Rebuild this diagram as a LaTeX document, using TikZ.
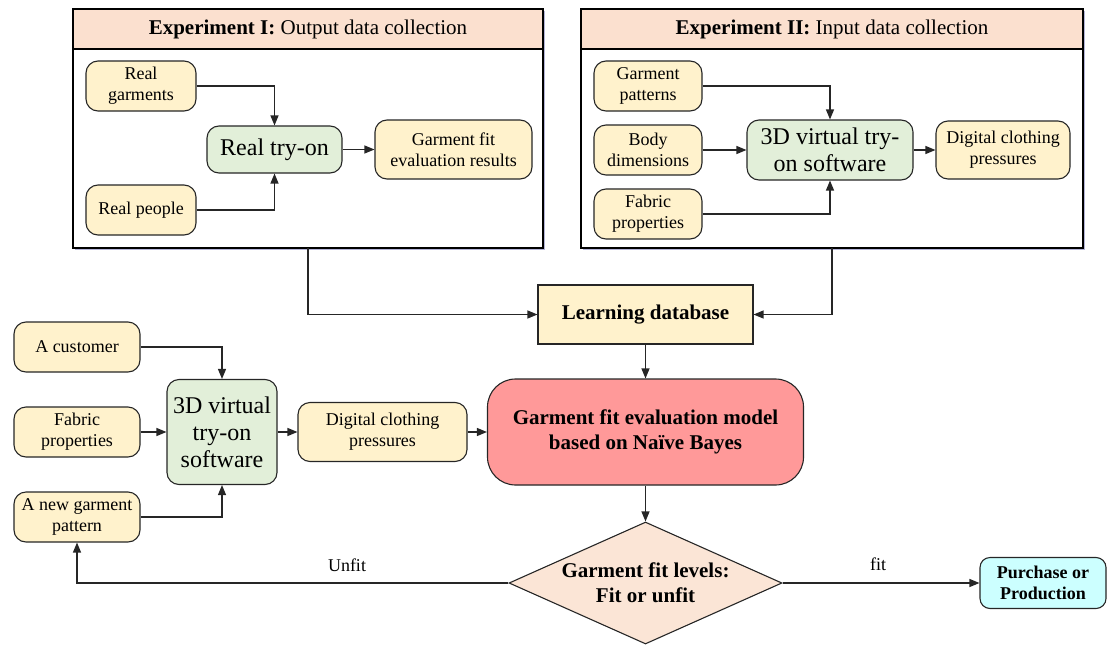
\documentclass[tikz,border=0pt]{standalone}
\usepackage{fontspec}
\setmainfont{Liberation Serif}
\usetikzlibrary{arrows.meta,shapes.geometric,shadows}
\definecolor{ybox}{HTML}{FFF2CC}
\definecolor{gbox}{HTML}{E2EFD9}
\definecolor{pbox}{HTML}{FF9999}
\definecolor{dbox}{HTML}{FBE5D6}
\definecolor{hbox}{HTML}{FBE0CF}
\definecolor{cbox}{HTML}{CCFFFF}
\begin{document}
\begin{tikzpicture}[x=1pt,y=-1pt,
  box/.style={draw=black!85, line width=1.1pt, rounded corners=12pt, align=center, inner sep=0pt,
    font=\fontsize{18}{21}\selectfont},
  ybx/.style={box, fill=ybox},
  gbx/.style={box, fill=gbox, font=\fontsize{24}{27}\selectfont},
  panel/.style={draw=black, line width=1.8pt, fill=white, inner sep=0pt, outer sep=0pt,
    drop shadow={shadow xshift=2pt, shadow yshift=-2pt, fill=blue!30!gray, opacity=0.45}},
  header/.style={fill=hbox, inner sep=0pt, outer sep=0pt, anchor=north, font=\fontsize{21}{24}\selectfont},
  arr/.style={-{Triangle[length=10pt,width=8pt]}, line width=1.2pt, draw=black!85},
  lbl/.style={font=\fontsize{18}{21}\selectfont, inner sep=0pt}
]
\useasboundingbox (0,0) rectangle (1107,645);

% ---------- Panel 1 ----------
\node[panel, minimum width=470pt, minimum height=239pt] (p1) at (308,128.5) {};
\node[header, minimum width=468pt, minimum height=39pt] (h1) at ([yshift=-1pt]p1.north)
  {\textbf{Experiment I:} Output data collection};
\draw[line width=1.2pt] (h1.south west) -- (h1.south east);
\draw[line width=1.8pt] (p1.north west) rectangle (p1.south east);

\node[ybx, minimum width=110pt, minimum height=50pt] (rg) at (141,86) {Real\\garments};
\node[ybx, minimum width=110pt, minimum height=50pt] (rp) at (141,210) {Real people};
\node[gbx, minimum width=135pt, minimum height=47pt] (rt) at (274.5,149.5) {Real try-on};
\node[ybx, minimum width=157pt, minimum height=59pt] (ger) at (453.5,149.5) {Garment fit\\evaluation results};

\draw[arr] (rg.east) -| (rt.north);
\draw[arr] (rp.east) -| (rt.south);
\draw[arr] (rt.east) -- (ger.west);

% ---------- Panel 2 ----------
\node[panel, minimum width=502pt, minimum height=239pt] (p2) at (832,128.5) {};
\node[header, minimum width=500pt, minimum height=39pt] (h2) at ([yshift=-1pt]p2.north)
  {\textbf{Experiment II:} Input data collection};
\draw[line width=1.2pt] (h2.south west) -- (h2.south east);
\draw[line width=1.8pt] (p2.north west) rectangle (p2.south east);

\node[ybx, minimum width=108pt, minimum height=50pt] (gp) at (648,86) {Garment\\patterns};
\node[ybx, minimum width=108pt, minimum height=50pt] (bd) at (648,150) {Body\\dimensions};
\node[ybx, minimum width=108pt, minimum height=50pt] (fp) at (648,214) {Fabric\\properties};
\node[gbx, minimum width=166pt, minimum height=60pt] (sw) at (830,150) {3D virtual try-\\on software};
\node[ybx, minimum width=134pt, minimum height=58pt] (dcp) at (1003,150) {Digital clothing\\pressures};

\draw[arr] (gp.east) -| (sw.north);
\draw[arr] (bd.east) -- (sw.west);
\draw[arr] (fp.east) -| (sw.south);
\draw[arr] (sw.east) -- (dcp.west);

% ---------- Middle ----------
\node[draw=black!85, line width=1.1pt, fill=ybox, minimum width=215pt, minimum height=59pt, inner sep=0pt,
  font=\fontsize{21}{24}\selectfont\bfseries] (ld) at (645.5,314.5) {Learning database};
\draw[arr] (p1.south) |- (ld.west);
\draw[arr] (p2.south) |- (ld.east);

\node[box, fill=pbox, rounded corners=28pt, minimum width=316pt, minimum height=106pt,
  font=\fontsize{21}{25}\selectfont\bfseries] (model) at (645.5,432) {Garment fit evaluation model\\based on Naïve Bayes};
\draw[arr] (ld.south) -- (model.north);

\node[diamond, draw=black!85, line width=1.1pt, fill=dbox, aspect=2.24, inner sep=0pt,
  minimum width=273pt, minimum height=122pt, align=center,
  font=\fontsize{21}{25}\selectfont\bfseries] (dm) at (645.5,583) {Garment fit levels:\\Fit or unfit};
\draw[arr] (model.south) -- (dm.north);

\node[box, fill=cbox, rounded corners=10pt, minimum width=126pt, minimum height=51pt,
  font=\fontsize{18}{21}\selectfont\bfseries] (pp) at (1043,583) {Purchase or\\Production};
\draw[arr] (dm.east) -- (pp.west);
\node[lbl] (lfit) at (878,564) {fit};

% ---------- Bottom left ----------
\node[ybx, minimum width=126pt, minimum height=50pt] (cu) at (77,347) {A customer};
\node[ybx, minimum width=126pt, minimum height=50pt] (fp2) at (77,432) {Fabric\\properties};
\node[ybx, minimum width=126pt, minimum height=50pt] (ng) at (77,517) {A new garment\\pattern};
\node[gbx, minimum width=110pt, minimum height=105pt] (sw2) at (222,432) {3D virtual\\try-on\\software};
\node[ybx, minimum width=169pt, minimum height=59pt] (dcp2) at (382.5,432) {Digital clothing\\pressures};

\draw[arr] (cu.east) -| (sw2.north);
\draw[arr] (fp2.east) -- (sw2.west);
\draw[arr] (ng.east) -| (sw2.south);
\draw[arr] (sw2.east) -- (dcp2.west);
\draw[arr] (dcp2.east) -- (model.west);

\draw[arr] (dm.west) -| (ng.south);
\node[lbl] (lunfit) at (347,565) {Unfit};
\end{tikzpicture}
\end{document}
